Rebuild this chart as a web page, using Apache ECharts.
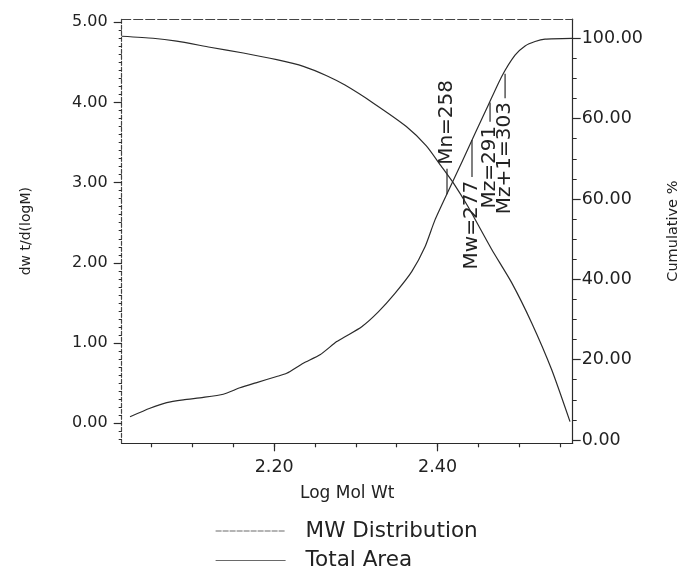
<!DOCTYPE html>
<html><head><meta charset="utf-8">
<script src="https://cdn.jsdelivr.net/npm/echarts@6/dist/echarts.min.js"></script>
<style>html,body{margin:0;padding:0;background:#fff}#c{width:683px;height:573px}</style>
</head><body><div id="c"></div>
<script>
// MW Distribution (left axis, dwt/d(logM))
const mwLogM   = [2.0133, 2.0516, 2.0806, 2.1214, 2.1622, 2.2031, 2.2357, 2.2643, 2.2867, 2.3215, 2.3618, 2.3863, 2.4043, 2.4205, 2.4369, 2.4664, 2.4909, 2.5153, 2.5398, 2.5622];
const mwValues = [4.825, 4.80, 4.763, 4.688, 4.616, 4.533, 4.45, 4.333, 4.216, 3.991, 3.70, 3.458, 3.208, 2.979, 2.708, 2.166, 1.75, 1.25, 0.666, 0.02];
// Total Area (right axis, cumulative %)
const areaLogM   = [2.0235, 2.0479, 2.0684, 2.0887, 2.1132, 2.1377, 2.1581, 2.1786, 2.2031, 2.2153, 2.2356, 2.2561, 2.2765, 2.2867, 2.3072, 2.3275, 2.3479, 2.3684, 2.3847, 2.3969, 2.4132, 2.4296, 2.4459, 2.4622, 2.4786, 2.4949, 2.5072, 2.5194, 2.5316, 2.5647];
const areaValues = [5.8, 7.9, 9.3, 10.0, 10.6, 11.4, 13.0, 14.3, 15.8, 16.6, 19.1, 21.2, 24.5, 25.7, 28.2, 31.9, 36.5, 41.9, 48.1, 54.8, 62.0, 69.1, 76.3, 83.4, 90.5, 95.8, 98.1, 99.2, 99.8, 100.0];
// Molecular weight averages (log M, marker line from / to in %)
const annotLabels = ['Mn=258', 'Mw=277', 'Mz=291', 'Mz+1=303'];
const annotLogM   = [2.4116, 2.4422, 2.4643, 2.4827];
const annotFrom   = [61.2, 74.7, 84.0, 91.2];
const annotTo     = [67.5, 65.5, 79.2, 85.1];
// Axes
const xTickValues  = [2.05, 2.10, 2.15, 2.20, 2.25, 2.30, 2.35, 2.40, 2.45, 2.50, 2.55];
const xLabelValues = [2.20, 2.40];
const xTickLabels  = ['2.20', '2.40'];
const leftLabelValues = [0, 1, 2, 3, 4, 5];
const leftTickLabels  = ['0.00', '1.00', '2.00', '3.00', '4.00', '5.00'];
const rightLabelValues = [0, 20, 40, 60, 80, 100];
const rightTickLabels  = ['0.00', '20.00', '40.00', '60.00', '60.00', '100.00'];

const leftMinor = []; for (let k = -2; k <= 50; k++) leftMinor.push(+(k / 10).toFixed(1));
const rightMinor = []; for (let k = 0; k <= 100; k += 5) rightMinor.push(k);

const X_MIN = 2.0133, X_MAX = 2.5655;
const L_MIN = -0.25, L_MAX = 5.04;
const R_MIN = -0.82, R_MAX = 104.8;
const FONT = 'DejaVu Sans';
const INK = '#2b2b2b';

function lab(values, labels) {
  return v => { const i = values.findIndex(t => Math.abs(t - v) < 1e-6); return i >= 0 ? labels[i] : ''; };
}
const noZero = { onZero: false };

const chart = echarts.init(document.getElementById('c'));
chart.setOption({
  backgroundColor: '#fff',
  animation: false,
  grid: { left: 121.7, right: 110.3, top: 19, bottom: 129.7, outerBoundsMode: 'none' },
  legend: {
    data: [
      { name: 'MW Distribution', lineStyle: { color: '#6a6a6a', width: 1.2, type: [6, 1] }, itemStyle: { opacity: 0 } },
      { name: 'Total Area', lineStyle: { color: '#6a6a6a', width: 1.2 }, itemStyle: { opacity: 0 } }
    ],
    orient: 'vertical', left: 215, top: 520, padding: 0, itemWidth: 70, itemHeight: 14, itemGap: 7.5,
    selectedMode: false,
    textStyle: { fontFamily: FONT, fontSize: 21.5, color: '#222', lineHeight: 22, padding: [0, 0, 0, 15] }
  },
  xAxis: [
    { type: 'value', position: 'bottom', min: X_MIN, max: X_MAX,
      axisLine: { show: true, onZero: false, lineStyle: { color: INK, width: 1.2 } },
      axisTick: { show: true, customValues: xLabelValues, length: 8, lineStyle: { color: INK, width: 1.2 } },
      axisLabel: { customValues: xLabelValues, formatter: lab(xLabelValues, xTickLabels), margin: 15,
        fontFamily: FONT, fontSize: 17.5, color: '#222' },
      splitLine: { show: false },
      name: 'Log Mol Wt', nameLocation: 'middle', nameGap: 42,
      nameTextStyle: { fontFamily: FONT, fontSize: 17, color: '#222' } },
    { type: 'value', position: 'bottom', min: X_MIN, max: X_MAX,
      axisLine: { show: false, onZero: false },
      axisTick: { show: true, customValues: xTickValues, length: 4, lineStyle: { color: INK, width: 1.2 } },
      axisLabel: { show: false }, splitLine: { show: false } },
    { type: 'value', position: 'top', min: X_MIN, max: X_MAX,
      axisLine: { show: true, onZero: false, lineStyle: { color: '#444', width: 1.2, type: [9, 3] } },
      axisTick: { show: false }, axisLabel: { show: false }, splitLine: { show: false } }
  ],
  yAxis: [
    { type: 'value', position: 'left', min: L_MIN, max: L_MAX,
      axisLine: { show: true, onZero: false, lineStyle: { color: '#444', width: 1.2, type: [4, 2] } },
      axisTick: { show: true, customValues: leftLabelValues, length: 8, lineStyle: { color: INK, width: 1.2 } },
      axisLabel: { customValues: leftLabelValues, formatter: lab(leftLabelValues, leftTickLabels), margin: 14,
        fontFamily: FONT, fontSize: 16, color: '#222' },
      splitLine: { show: false },
      name: 'dw t/d(logM)', nameLocation: 'middle', nameRotate: 90, nameGap: 88,
      nameTextStyle: { fontFamily: FONT, fontSize: 14, color: '#222' } },
    { type: 'value', position: 'left', min: L_MIN, max: L_MAX,
      axisLine: { show: false, onZero: false },
      axisTick: { show: true, customValues: leftMinor, length: 3, lineStyle: { color: INK, width: 1 } },
      axisLabel: { show: false }, splitLine: { show: false } },
    { type: 'value', position: 'right', min: R_MIN, max: R_MAX,
      axisLine: { show: true, onZero: false, lineStyle: { color: INK, width: 1.2 } },
      axisTick: { show: true, customValues: rightLabelValues, length: 8, lineStyle: { color: INK, width: 1.2 } },
      axisLabel: { customValues: rightLabelValues, formatter: lab(rightLabelValues, rightTickLabels), margin: 9,
        fontFamily: FONT, fontSize: 17.5, color: '#222' },
      splitLine: { show: false },
      name: 'Cumulative %', nameLocation: 'middle', nameRotate: 90, nameGap: 93,
      nameTextStyle: { fontFamily: FONT, fontSize: 14.5, color: '#222' } },
    { type: 'value', position: 'right', min: R_MIN, max: R_MAX,
      axisLine: { show: false, onZero: false },
      axisTick: { show: true, customValues: rightMinor, length: 4, lineStyle: { color: INK, width: 1 } },
      axisLabel: { show: false }, splitLine: { show: false } }
  ],
  series: [
    { name: 'MW Distribution', type: 'line', xAxisIndex: 0, yAxisIndex: 0,
      data: mwLogM.map((x, i) => [x, mwValues[i]]),
      symbol: 'none', smooth: 0.2, lineStyle: { color: INK, width: 1.2 }, itemStyle: { color: INK } },
    { name: 'Total Area', type: 'line', xAxisIndex: 0, yAxisIndex: 2,
      data: areaLogM.map((x, i) => [x, areaValues[i]]),
      symbol: 'none', smooth: 0.2, lineStyle: { color: INK, width: 1.2 }, itemStyle: { color: INK } },
    { name: 'annotations', type: 'custom', xAxisIndex: 0, yAxisIndex: 2, clip: false, silent: true,
      data: annotLogM.map((x, i) => [x, annotFrom[i], annotTo[i]]),
      encode: { x: 0, y: [1, 2] },
      renderItem: function (params, api) {
        const i = params.dataIndex;
        const p1 = api.coord([api.value(0), api.value(1)]);
        const p2 = api.coord([api.value(0), api.value(2)]);
        const up = p2[1] < p1[1];
        const gap = 4;
        return { type: 'group', children: [
          { type: 'line', shape: { x1: p1[0], y1: p1[1], x2: p2[0], y2: p2[1] },
            style: { stroke: INK, lineWidth: 1.2 } },
          { type: 'text', x: p2[0], y: up ? p2[1] - gap : p2[1] + gap, rotation: Math.PI / 2,
            style: { text: annotLabels[i], align: up ? 'left' : 'right', verticalAlign: 'middle',
              font: '20px "' + FONT + '"', fill: '#222' } }
        ] };
      } }
  ]
});
</script></body></html>
